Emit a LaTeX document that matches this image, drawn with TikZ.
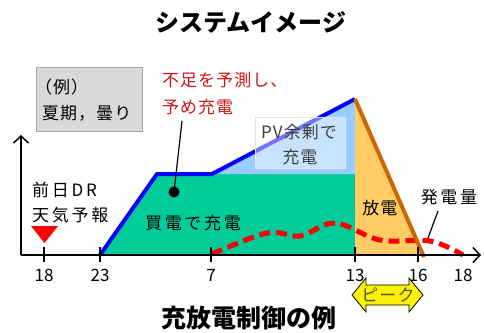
\documentclass[tikz,border=0pt]{standalone}
\usepackage{fontspec}
\setmainfont{Noto Sans CJK JP}
\newfontfamily\jpA{Noto Sans CJK JP}[LetterSpace=6]
\newfontfamily\jpB{Noto Sans CJK JP}[LetterSpace=16]
\usetikzlibrary{arrows.meta}
\definecolor{cgreen}{RGB}{0,204,153}
\definecolor{clblue}{RGB}{153,204,255}
\definecolor{corange}{RGB}{255,204,102}
\definecolor{cbrown}{RGB}{204,102,0}
\definecolor{cred}{RGB}{204,20,20}
\definecolor{cgraybox}{RGB}{217,217,217}
\definecolor{ctxt}{RGB}{64,64,64}
\tikzset{
  txt/.style={inner sep=0pt, font=\jpA\fontsize{17}{17}\selectfont},
  txtw/.style={inner sep=0pt, font=\jpB\fontsize{17}{17}\selectfont},
  ticklab/.style={inner sep=0pt, font=\fontsize{17}{17}\selectfont},
  titletxt/.style={inner sep=0pt, font=\bfseries\fontsize{24}{24}\selectfont},
  axisline/.style={line width=2pt, black},
  tickmark/.style={line width=2pt, black},
  blueline/.style={line width=4pt, blue, line join=miter},
  brownline/.style={line width=4pt, cbrown},
  reddash/.style={line width=5pt, red, dash pattern=on 11pt off 6pt},
  pointer/.style={line width=1.2pt, black}
}
\begin{document}
\begin{tikzpicture}[x=1pt,y=-1pt]
\useasboundingbox (0,0) rectangle (484,332);
% key points
\coordinate (o) at (21,255);
\coordinate (ytip) at (21,135);
\coordinate (xtip) at (481,255);
\coordinate (t18) at (44,255);
\coordinate (t23) at (100,255);
\coordinate (t7) at (211,255);
\coordinate (t13) at (355,255);
\coordinate (t16) at (418,255);
\coordinate (a1) at (157,174);
\coordinate (a2) at (212,174);
\coordinate (pk) at (355,99);
\coordinate (a3) at (355,174);
\coordinate (bend) at (424,257);
% titles
\node[titletxt] (title) at (251,22) {システムイメージ};
\node[titletxt, font=\bfseries\fontsize{25}{25}\selectfont] (subtitle) at (249,318) {充放電制御の例};
% fills
\fill[cgreen] (t23) -- (a1) -- (a3) -- (t13) -- cycle;
\fill[clblue] (a2) -- (pk) -- (a3) -- cycle;
\fill[corange] (pk) -- (421,255) -- (t13) -- cycle;
% red dashed generation curve
\draw[reddash] plot[smooth, tension=0.6] coordinates {(212,254) (267,233) (300,236) (335,223) (380,240) (430,241) (463,255)};
% outlines
\draw[blueline] (t23) -- (a1) -- (a2) -- (pk);
\draw[brownline] (pk) -- (bend);
% PV box
\node[draw=white!80!gray, fill=white, fill opacity=0.45, text opacity=1, minimum width=90pt, minimum height=51pt, inner sep=0pt] (pvbox) at (300,142.5) {};
\node[txt, text=ctxt] (pv1) at (299,132) {PV余剰で};
\node[txt, text=ctxt] (pv2) at (300,157) {充電};
% axes
\draw[axisline, -{Straight Barb[length=7pt,width=15pt,line width=1.5pt]}] (o) -- (ytip);
\draw[axisline, -{Straight Barb[length=7pt,width=15pt,line width=1.5pt]}] (o) -- (xtip);
\foreach \t in {t18,t23,t7,t13,t16}{
  \draw[tickmark] ([yshift=-7pt]\t) -- ([yshift=8pt]\t);
}
% tick labels
\node[ticklab] (l18) at (44,275) {18};
\node[ticklab] (l23) at (100,275) {23};
\node[ticklab] (l7) at (211,275) {7};
\node[ticklab] (l13) at (355,275) {13};
\node[ticklab] (l16) at (418,275) {16};
\node[ticklab] (l18b) at (463,275) {18};
% gray example box
\node[draw=gray!70, fill=cgraybox, minimum width=106pt, minimum height=64pt, inner sep=0pt] (exbox) at (89,99) {};
\node[txt, anchor=west] (ex1) at (35,87) {（例）};
\node[txt, anchor=west] (ex2) at (42,113) {夏期，曇り};
% red annotation
\node[txt, anchor=west, text=cred] (r1) at (162,80) {不足を予測し、};
\node[txt, anchor=west, text=cred] (r2) at (162,107) {予め充電};
% forecast label and triangle
\node[txtw, anchor=west] (f1) at (32,190) {前日DR};
\node[txtw, anchor=west] (f2) at (32,215) {天気予報};
\fill[red] (31,226) -- (58,226) -- (44.5,243) -- cycle;
% area labels
\node[txtw] (buy) at (193,223) {買電で充電};
\node[txt] (dis) at (380,208) {放電};
\node[txtw] (gen) at (449,197) {発電量};
% pointer to charging area
\fill (174,192) circle (5.5pt);
\coordinate (dot) at (174,192);
\coordinate (ptop) at (182,121);
\draw[pointer] (dot) -- (ptop);
\coordinate (gl1) at (438,211);
\coordinate (gl2) at (428,238);
\draw[pointer] (gl1) -- (gl2);
% peak double arrow
\draw[fill=yellow, line width=0.8pt] (352,295) -- (366,278) -- (366,285) -- (409,285) -- (409,278) -- (423,295) -- (409,312) -- (409,305) -- (366,305) -- (366,312) -- cycle;
\node[txt, text=ctxt!70!olive] (peak) at (388,295) {ピーク};
\end{tikzpicture}
\end{document}
